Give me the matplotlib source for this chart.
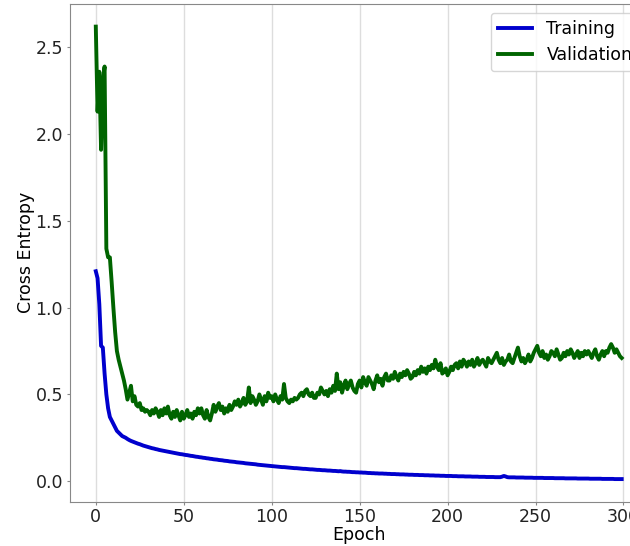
import numpy as np
import matplotlib
matplotlib.use("Agg")
from matplotlib import pyplot as plt

# per-epoch cross entropy
train_loss = [
    1.21, 1.17, 1.02, 0.78, 0.77, 0.62, 0.50, 0.42, 0.37, 0.35,
    0.33, 0.31, 0.29, 0.28, 0.27, 0.26, 0.255, 0.25, 0.243, 0.237,
    0.232, 0.228, 0.224, 0.220, 0.216, 0.213, 0.209, 0.205, 0.202, 0.199,
    0.196, 0.193, 0.190, 0.188, 0.185, 0.183, 0.180, 0.178, 0.176, 0.174,
    0.172, 0.170, 0.168, 0.166, 0.164, 0.162, 0.160, 0.158, 0.156, 0.155,
    0.153, 0.151, 0.150, 0.148, 0.146, 0.145, 0.143, 0.141, 0.140, 0.138,
    0.137, 0.135, 0.134, 0.132, 0.131, 0.129, 0.128, 0.126, 0.125, 0.124,
    0.122, 0.121, 0.120, 0.118, 0.117, 0.116, 0.114, 0.113, 0.112, 0.111,
    0.109, 0.108, 0.107, 0.106, 0.105, 0.103, 0.102, 0.101, 0.100, 0.099,
    0.098, 0.097, 0.095, 0.094, 0.093, 0.092, 0.091, 0.090, 0.089, 0.088,
    0.087, 0.086, 0.085, 0.084, 0.083, 0.082, 0.081, 0.081, 0.080, 0.079,
    0.078, 0.077, 0.076, 0.075, 0.075, 0.074, 0.073, 0.072, 0.071, 0.071,
    0.070, 0.069, 0.068, 0.068, 0.067, 0.066, 0.065, 0.065, 0.064, 0.063,
    0.063, 0.062, 0.061, 0.061, 0.060, 0.059, 0.059, 0.058, 0.057, 0.058,
    0.056, 0.055, 0.055, 0.054, 0.054, 0.053, 0.052, 0.052, 0.051, 0.051,
    0.050, 0.050, 0.049, 0.049, 0.048, 0.047, 0.047, 0.046, 0.046, 0.045,
    0.045, 0.044, 0.044, 0.044, 0.043, 0.043, 0.042, 0.042, 0.041, 0.041,
    0.041, 0.040, 0.040, 0.039, 0.039, 0.039, 0.038, 0.038, 0.037, 0.037,
    0.037, 0.036, 0.036, 0.036, 0.035, 0.035, 0.035, 0.034, 0.034, 0.034,
    0.033, 0.033, 0.033, 0.032, 0.032, 0.032, 0.031, 0.031, 0.031, 0.030,
    0.030, 0.030, 0.030, 0.029, 0.029, 0.029, 0.028, 0.028, 0.028, 0.028,
    0.027, 0.027, 0.027, 0.027, 0.026, 0.026, 0.026, 0.026, 0.025, 0.025,
    0.025, 0.025, 0.024, 0.024, 0.024, 0.024, 0.024, 0.023, 0.023, 0.023,
    0.023, 0.026, 0.030, 0.027, 0.023, 0.022, 0.022, 0.022, 0.022, 0.021,
    0.021, 0.021, 0.021, 0.021, 0.020, 0.020, 0.020, 0.020, 0.020, 0.019,
    0.019, 0.019, 0.019, 0.019, 0.019, 0.018, 0.018, 0.018, 0.018, 0.018,
    0.018, 0.017, 0.017, 0.017, 0.017, 0.017, 0.017, 0.016, 0.016, 0.016,
    0.016, 0.016, 0.016, 0.016, 0.015, 0.015, 0.015, 0.015, 0.015, 0.015,
    0.015, 0.014, 0.014, 0.014, 0.014, 0.014, 0.014, 0.014, 0.013, 0.013,
    0.013, 0.013, 0.013, 0.013, 0.013, 0.012, 0.012, 0.012, 0.012, 0.012,
]

val_loss = [
    2.62, 2.13, 2.36, 1.91, 2.31, 2.39, 1.34, 1.29, 1.29, 1.15,
    1.00, 0.86, 0.75, 0.70, 0.66, 0.62, 0.58, 0.53, 0.47, 0.51,
    0.55, 0.46, 0.49, 0.44, 0.43, 0.45, 0.41, 0.42, 0.40, 0.41,
    0.40, 0.38, 0.41, 0.39, 0.42, 0.40, 0.37, 0.41, 0.38, 0.42,
    0.39, 0.43, 0.38, 0.36, 0.40, 0.37, 0.41, 0.38, 0.35, 0.40,
    0.36, 0.38, 0.41, 0.37, 0.39, 0.36, 0.40, 0.38, 0.42, 0.39,
    0.42, 0.38, 0.36, 0.41, 0.37, 0.35, 0.39, 0.44, 0.40, 0.43,
    0.45, 0.41, 0.43, 0.39, 0.42, 0.40, 0.44, 0.41, 0.43, 0.46,
    0.44, 0.47, 0.43, 0.45, 0.48, 0.44, 0.46, 0.54, 0.45, 0.49,
    0.47, 0.44, 0.46, 0.50, 0.47, 0.44, 0.49, 0.46, 0.51, 0.48,
    0.49, 0.46, 0.50, 0.47, 0.45, 0.49, 0.47, 0.56, 0.48, 0.46,
    0.45, 0.47, 0.46, 0.48, 0.47, 0.48, 0.50, 0.51, 0.49, 0.52,
    0.53, 0.50, 0.49, 0.51, 0.48, 0.48, 0.51, 0.50, 0.54, 0.52,
    0.50, 0.52, 0.49, 0.53, 0.51, 0.55, 0.52, 0.62, 0.53, 0.57,
    0.51, 0.55, 0.58, 0.53, 0.56, 0.58, 0.54, 0.52, 0.51, 0.56,
    0.58, 0.54, 0.60, 0.57, 0.55, 0.60, 0.58, 0.56, 0.53, 0.58,
    0.61, 0.57, 0.59, 0.55, 0.60, 0.62, 0.58, 0.58, 0.61, 0.59,
    0.63, 0.60, 0.58, 0.62, 0.60, 0.63, 0.61, 0.64, 0.62, 0.59,
    0.60, 0.63, 0.61, 0.64, 0.62, 0.66, 0.63, 0.65, 0.62, 0.66,
    0.64, 0.67, 0.65, 0.70, 0.66, 0.64, 0.68, 0.62, 0.63, 0.65,
    0.61, 0.63, 0.66, 0.64, 0.67, 0.68, 0.65, 0.69, 0.66, 0.70,
    0.685, 0.66, 0.69, 0.67, 0.70, 0.66, 0.68, 0.71, 0.67, 0.69,
    0.70, 0.68, 0.66, 0.71, 0.69, 0.68, 0.70, 0.72, 0.74, 0.70,
    0.68, 0.71, 0.67, 0.69, 0.70, 0.73, 0.69, 0.68, 0.71, 0.74,
    0.77, 0.72, 0.69, 0.71, 0.68, 0.70, 0.73, 0.69, 0.71, 0.74,
    0.76, 0.78, 0.74, 0.72, 0.75, 0.71, 0.73, 0.70, 0.72, 0.75,
    0.74, 0.72, 0.76, 0.73, 0.70, 0.71, 0.74, 0.72, 0.75, 0.73,
    0.76, 0.74, 0.71, 0.73, 0.75, 0.71, 0.74, 0.72, 0.75, 0.73,
    0.75, 0.73, 0.71, 0.74, 0.76, 0.72, 0.70, 0.73, 0.75, 0.72,
    0.75, 0.74, 0.77, 0.79, 0.77, 0.74, 0.76, 0.74, 0.72, 0.71,
]

epochs = np.arange(len(train_loss))

plt.rcParams['font.size'] = 12.5

fig = plt.figure(figsize=(6.3, 5.46), dpi=100)
# axes runs past the right edge, as in the cropped reference
ax = fig.add_axes([69.5/630, 44.3/546, (648-69.5)/630, (501.7-4)/546])

ax.plot(epochs, train_loss, color='mediumblue', lw=2.8, label='Training')
ax.plot(epochs, val_loss, color='darkgreen', lw=2.8, label='Validation')

ax.grid(axis='x', color='#dddddd', lw=1)
ax.set_axisbelow(True)
for s in ax.spines.values():
    s.set_color('#888888')
ax.tick_params(colors='#888888', labelcolor='#222222', length=2.2, pad=2.5)

ax.set_xlabel('Epoch', labelpad=0)
ax.set_ylabel('Cross Entropy', labelpad=0)
ax.set_yticks([0.0, 0.5, 1.0, 1.5, 2.0, 2.5])
ax.legend(loc='upper right')

fig.savefig('out.png', dpi=100)
